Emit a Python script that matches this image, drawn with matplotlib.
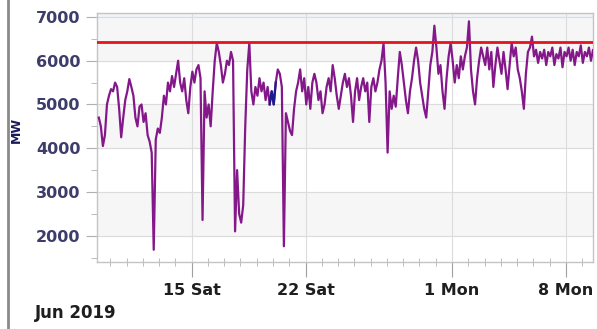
import numpy as np
import pandas as pd
import matplotlib
matplotlib.use("Agg")
import matplotlib.pyplot as plt
import matplotlib.dates as mdates
from matplotlib.lines import Line2D

# Demand (MW), one reading every 3 hours from 9 Jun 2019 07:00
mw = [
    4700, 4500, 4050, 4300, 5000, 5200, 5350, 5300, 5500, 5400,
    4900, 4250, 4700, 5100, 5300, 5580, 5400, 5200, 4700, 4500,
    4950, 5000, 4600, 4800, 4300, 4150, 3900, 1680, 4200, 4450,
    4350, 4700, 5200, 5000, 5500, 5300, 5650, 5400, 5700, 6000,
    5500, 5300, 5600, 5100, 4800, 5400, 5750, 5500, 5800, 5900,
    5600, 2360, 5300, 4700, 5000, 4500, 5300, 6000, 6400, 6200,
    5900, 5500, 5700, 6000, 5900, 6200, 6000, 2100, 3500, 2500,
    2300, 2700, 4500, 5800, 6400, 5300, 5000, 5400, 5200, 5600,
    5300, 5500, 5100, 5400, 5000, 5300, 5000, 5500, 5800, 5700,
    5400, 1760, 4800, 4600, 4400, 4300, 4900, 5300, 5500, 5800,
    5300, 5600, 5000, 5400, 4900, 5500, 5700, 5500, 5100, 5300,
    4800, 5000, 5400, 5600, 5300, 5900, 5600, 5200, 4900, 5200,
    5500, 5700, 5400, 5600, 5200, 4600, 5300, 5600, 5100, 5400,
    5600, 5300, 5500, 4600, 5400, 5600, 5300, 5500, 5800, 6000,
    6400, 5500, 3900, 5300, 4900, 5200, 4950, 5600, 6200, 5900,
    5500, 5100, 4800, 5300, 5600, 6000, 6300, 6000, 5500, 5200,
    4900, 4700, 5300, 5900, 6200, 6800, 6300, 5700, 5900, 5300,
    4900, 5600, 6100, 6400, 6000, 5500, 5900, 5600, 6100, 5800,
    6100, 6300, 6900, 5800, 5300, 5000, 5600, 6000, 6300, 6100,
    5900, 6300, 5800, 6200, 5400, 5900, 6300, 6000, 5700, 6200,
    5800, 5350, 5900, 6400, 6100, 6300, 5800, 5600, 5300, 4900,
    5700, 6200, 6300, 6550, 6100, 6250, 5950, 6200, 6050, 6250,
    5900, 6200, 6100, 6300, 5900, 6150, 6050, 6300, 5850, 6200,
    6100, 6300, 6000, 6250, 5900, 6200, 6100, 6350, 5950, 6200,
    6100, 6300, 6000, 6250, 6150, 6050, 5650,
]
# readings drawn in dark blue (around 20 Jun)
blue_idx = [84, 85, 86, 87]
limit_mw = 6420
y_ticks = [2000, 3000, 4000, 5000, 6000, 7000]
x_tick_dates = ["2019-06-15", "2019-06-22", "2019-07-01", "2019-07-08"]
x_tick_labels = ["15 Sat", "22 Sat", "1 Mon", "8 Mon"]

times = pd.date_range("2019-06-09 07:00", periods=len(mw), freq="3h")
mw = np.array(mw)

fig = plt.figure(figsize=(5.97, 3.29), dpi=100)
ax = fig.add_axes([0.1625, 0.2036, 0.8308, 0.7569])

navy = "#3d3d6b"
purple = "#84188a"

# light banding behind the grid
for lo, hi in [(2000, 3000), (4000, 5000), (6000, 7000)]:
    ax.axhspan(lo, hi, color="#f6f6f6", zorder=0)
ax.axhspan(7000, 7200, color="#f0f3f7", zorder=0)

ax.plot(times, mw, color=purple, lw=1.6, zorder=3)
ax.plot(times[blue_idx], mw[blue_idx], color="#1c1c8c", lw=1.6, zorder=4)
ax.axhline(limit_mw, color="#e3141b", lw=2, zorder=5)

ax.set_ylim(1400, 7090)
ax.set_xlim(pd.Timestamp("2019-06-09 04:20"), pd.Timestamp("2019-07-09 16:00"))

ax.set_yticks(y_ticks)
ax.set_yticklabels([str(v) for v in y_ticks])
ax.yaxis.set_minor_locator(plt.MultipleLocator(500))
ax.set_xticks(pd.to_datetime(x_tick_dates))
ax.set_xticklabels(x_tick_labels)
ax.xaxis.set_minor_locator(mdates.DayLocator())

ax.grid(True, which="major", color="#dcdcdc", lw=0.8, zorder=1)
ax.set_axisbelow(True)

for side in ["top", "right", "left", "bottom"]:
    ax.spines[side].set_color("#c4c4c4")
    ax.spines[side].set_linewidth(1.0)

ax.tick_params(axis="y", which="major", length=8, color="#b0b0b0",
               labelsize=11.5, labelcolor=navy, pad=4)
ax.tick_params(axis="y", which="minor", length=4, color="#b0b0b0")
ax.tick_params(axis="x", which="major", length=11, color="#a0a0a0",
               labelsize=11.5, labelcolor="#1e1e1e", pad=4)
ax.tick_params(axis="x", which="minor", length=6, direction="inout", color="#b0b0b0")
for lab in ax.get_xticklabels() + ax.get_yticklabels():
    lab.set_fontweight("bold")

ax.set_ylabel("MW", fontsize=9, fontweight="bold", color="#1a1a5a")
ax.yaxis.set_label_coords(-0.15, 0.53)
fig.text(0.059, 0.033, "Jun 2019", fontsize=12, fontweight="bold", color="#1e1e1e")

# screenshot border on the left
fig.add_artist(Line2D([0.0134, 0.0134], [0, 1], transform=fig.transFigure,
                      color="#8a8a8a", lw=2))

fig.savefig("out.png", dpi=100)
